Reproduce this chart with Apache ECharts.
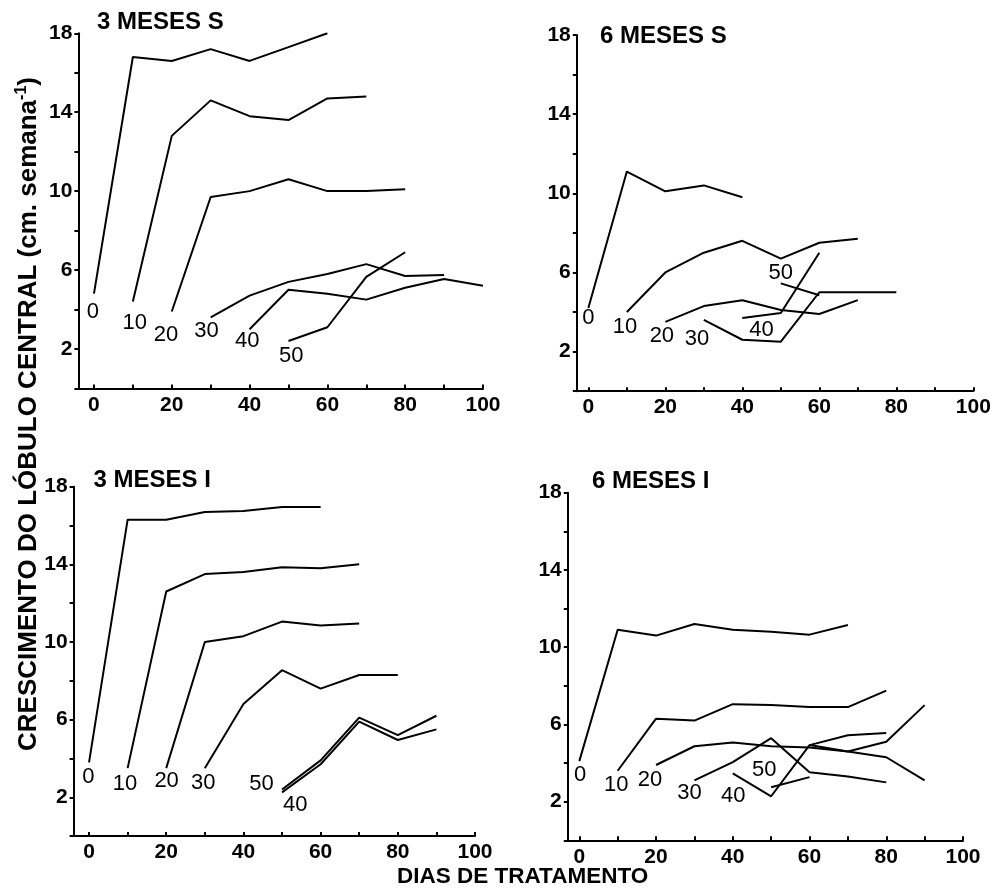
<!DOCTYPE html>
<html>
<head>
<meta charset="utf-8">
<script src="https://cdn.jsdelivr.net/npm/echarts@6/dist/echarts.min.js"></script>
<style>html,body{margin:0;padding:0;background:#fff}#c{width:997px;height:893px}</style>
</head>
<body>
<div id="c"></div>
<script>
// ---------- DATA ----------
const seriesNames = ['0','10','20','30','40','50'];
const panelTitles = ['3 MESES S','6 MESES S','3 MESES I','6 MESES I'];
const xTitle = 'DIAS DE TRATAMENTO';
const yTitleMain = 'CRESCIMENTO DO LÓBULO CENTRAL (cm. semana';
const yTitleSup = '-1';

// Panel 1: 3 MESES S
const s3S_0  = [[0,4.8],[10,16.8],[20,16.6],[30,17.2],[40,16.6],[50,17.3],[60,18.0]];
const s3S_10 = [[10,4.4],[20,12.8],[30,14.6],[40,13.8],[50,13.6],[60,14.7],[70,14.8]];
const s3S_20 = [[20,3.9],[30,9.7],[40,10.0],[50,10.6],[60,10.0],[70,10.0],[80,10.1]];
const s3S_30 = [[30,3.6],[40,4.7],[50,5.4],[60,5.8],[70,6.3],[80,5.7],[90,5.75]];
const s3S_40 = [[40,3.0],[50,5.0],[60,4.8],[70,4.5],[80,5.1],[90,5.55],[100,5.2]];
const s3S_50 = [[50,2.4],[60,3.1],[70,5.65],[80,6.9]];

// Panel 2: 6 MESES S
const s6S_0  = [[0,4.2],[10,11.1],[20,10.1],[30,10.4],[40,9.8]];
const s6S_10 = [[10,4.0],[20,6.0],[30,7.0],[40,7.6],[50,6.7],[60,7.5],[70,7.7]];
const s6S_20 = [[20,3.5],[30,4.3],[40,4.6],[50,4.1],[60,3.9],[70,4.6]];
const s6S_30 = [[30,3.6],[40,2.6],[50,2.5],[60,5.0],[70,5.0],[80,5.0]];
const s6S_40 = [[40,3.7],[50,3.95],[60,7.0]];
const s6S_50 = [[50,5.45],[60,4.85]];

// Panel 3: 3 MESES I
const s3I_0  = [[0,3.8],[10,16.3],[20,16.3],[30,16.7],[40,16.75],[50,16.95],[60,16.95]];
const s3I_10 = [[10,3.5],[20,12.6],[30,13.5],[40,13.6],[50,13.85],[60,13.8],[70,14.0]];
const s3I_20 = [[20,3.5],[30,10.0],[40,10.3],[50,11.05],[60,10.85],[70,10.95]];
const s3I_30 = [[30,3.5],[40,6.8],[50,8.55],[60,7.6],[70,8.3],[80,8.3]];
const s3I_40 = [[50,2.25],[60,3.7],[70,5.9],[80,4.95],[90,5.5]];
const s3I_50 = [[50,2.4],[60,3.9],[70,6.1],[80,5.2],[90,6.2]];

// Panel 4: 6 MESES I
const s6I_0  = [[0,4.1],[10,10.9],[20,10.6],[30,11.2],[40,10.9],[50,10.8],[60,10.65],[70,11.15]];
const s6I_10 = [[10,3.6],[20,6.3],[30,6.2],[40,7.05],[50,7.0],[60,6.9],[70,6.9],[80,7.75]];
const s6I_20 = [[20,3.9],[30,4.87],[40,5.06],[50,4.87],[60,4.8],[70,4.6],[80,4.3],[90,3.1]];
const s6I_30 = [[30,3.1],[40,4.05],[50,5.29],[60,3.52],[70,3.3],[80,3.0]];
const s6I_40 = [[40,3.47],[50,2.28],[60,4.93],[70,4.6],[80,5.1],[90,7.0]];
const s6I_40b = [[60,4.93],[70,5.44],[80,5.55]];
const s6I_50 = [[50,2.75],[60,3.27]];

// Curve label anchors (data coordinates)
const lab3S = [[-0.3,3.9],[10.5,3.3],[18.5,2.7],[28.9,2.9],[39.4,2.4],[50.7,1.65]];
const lab6S = [[0,3.7],[9.5,3.25],[19.1,2.8],[28.2,2.65],[45,3.1],[50,6.0]];
const lab3I = [[-0.2,3.05],[9.3,2.7],[20.1,2.85],[29.6,2.75],[53.4,1.6],[44.7,2.7]];
const lab6I = [[0.2,3.4],[9.6,2.85],[18.4,3.1],[28.7,2.45],[40.1,2.3],[48.2,3.65]];

// ---------- LAYOUT ----------
const FONT = "'Liberation Sans', Arial, Helvetica, sans-serif";
const panels = [
  {grid:{left:78.4, top:33.3, width:404.6, height:355.1}, xMin:-4, lines:[s3S_0,s3S_10,s3S_20,s3S_30,s3S_40,s3S_50], labels:lab3S, title:[97,22.5]},
  {grid:{left:576.8, top:35, width:396.5, height:356.2}, xMin:-3, lines:[s6S_0,s6S_10,s6S_20,s6S_30,s6S_40,s6S_50], labels:lab6S, title:[600,36.7]},
  {grid:{left:73.6, top:486.7, width:401.4, height:349.4}, xMin:-4, lines:[s3I_0,s3I_10,s3I_20,s3I_30,s3I_40,s3I_50], labels:lab3I, title:[93.5,480]},
  {grid:{left:567.8, top:492.7, width:395.2, height:347.6}, xMin:-3, lines:[s6I_0,s6I_10,s6I_20,s6I_30,s6I_40,s6I_40b,s6I_50], labels:lab6I, title:[592,481]}
];

const chart = echarts.init(document.getElementById('c'), null, {renderer:'canvas'});
const grid=[], xAxis=[], yAxis=[], series=[], graphic=[];
const axisLineStyle = {color:'#000', width:2};
const labelStyle = {color:'#000', fontSize:21, fontWeight:'bold', fontFamily:FONT};

panels.forEach((p,i)=>{
  grid.push(Object.assign({containLabel:false}, p.grid));
  xAxis.push({
    type:'value', gridIndex:i, min:p.xMin, max:100,
    axisLine:{show:true, onZero:false, lineStyle:axisLineStyle},
    axisTick:{show:true, inside:true, length:4, lineStyle:{color:'#000', width:2}},
    minorTick:{show:true, splitNumber:2, length:4, lineStyle:{color:'#000', width:2}},
    splitLine:{show:false},
    axisLabel:Object.assign({margin:6, showMinLabel:true,
      formatter:v=> (v>=0 && Math.abs(v%20)<1e-6) ? String(Math.round(v)) : ''}, labelStyle)
  });
  yAxis.push({
    type:'value', gridIndex:i, min:0, max:18, interval:2,
    axisLine:{show:true, onZero:false, lineStyle:axisLineStyle},
    axisTick:{show:true, length:4, lineStyle:{color:'#000', width:2}},
    splitLine:{show:false},
    axisLabel:Object.assign({margin:6,
      formatter:v=> (Math.abs((v-2)%4)<1e-6) ? String(v) : ''}, labelStyle)
  });
  p.lines.forEach(d=>{
    series.push({type:'line', xAxisIndex:i, yAxisIndex:i, data:d, symbol:'none',
      lineStyle:{color:'#000', width:2}, silent:true, animation:false, z:3});
  });
  const names = (i===2) ? ['0','10','20','30','40','50'] : seriesNames;
  series.push({type:'scatter', xAxisIndex:i, yAxisIndex:i, symbolSize:1,
    itemStyle:{color:'rgba(255,255,255,0)'}, silent:true, animation:false, z:4,
    data:p.labels.map((c,k)=>({name:names[k], value:c})),
    label:{show:true, position:'inside', formatter:q=>q.name, color:'#000', opacity:1,
      textBorderWidth:0, textShadowBlur:0,
      fontSize:22, fontFamily:FONT, fontWeight:'normal', align:'center', verticalAlign:'middle'}
  });
  graphic.push({type:'text', x:p.title[0], y:p.title[1], silent:true,
    style:{text:panelTitles[i], fill:'#000', fontSize:24, fontWeight:'bold', fontFamily:FONT,
      align:'left', verticalAlign:'middle'}});
});

graphic.push({type:'text', x:397, y:877, silent:true,
  style:{text:xTitle, fill:'#000', fontSize:22.5, fontWeight:'bold', fontFamily:FONT,
    align:'left', verticalAlign:'middle'}});
graphic.push({type:'text', x:29, y:414, rotation:Math.PI/2, silent:true,
  style:{text:'{a|'+yTitleMain+'}{b|'+yTitleSup+'}{a|)}', align:'center', verticalAlign:'middle',
    rich:{
      a:{fontSize:26, fontWeight:'bold', fontFamily:FONT, fill:'#000', lineHeight:30},
      b:{fontSize:16, fontWeight:'bold', fontFamily:FONT, fill:'#000', lineHeight:30, verticalAlign:'top'}
    }}});

chart.setOption({
  backgroundColor:'#fff',
  animation:false,
  grid, xAxis, yAxis, series, graphic
});
</script>
</body>
</html>
